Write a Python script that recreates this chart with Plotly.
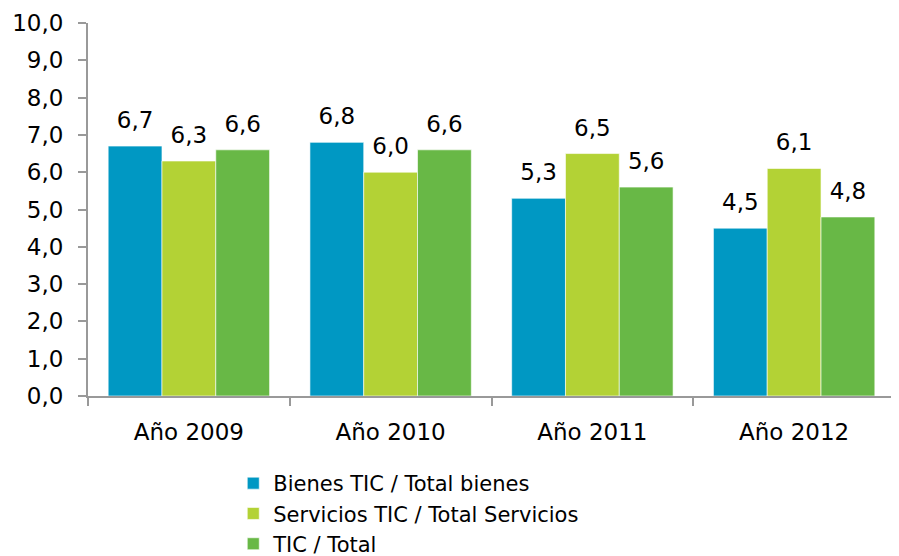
import plotly.graph_objects as go

# Data
years = ["Año 2009", "Año 2010", "Año 2011", "Año 2012"]
bienes = [6.7, 6.8, 5.3, 4.5]
servicios = [6.3, 6.0, 6.5, 6.1]
total = [6.6, 6.6, 5.6, 4.8]

series = [
    ("Bienes TIC / Total bienes", bienes, "#0098C3"),
    ("Servicios TIC / Total Servicios", servicios, "#B3D235"),
    ("TIC / Total", total, "#68B846"),
]

font = "DejaVu Sans, Verdana, sans-serif"

fig = go.Figure()
for name, vals, color in series:
    fig.add_trace(
        go.Bar(
            x=years,
            y=vals,
            name=name,
            marker=dict(color=color, line=dict(color="rgba(255,255,255,0.6)", width=1)),
            hoverinfo="x+y+name",
        )
    )

# value labels: grouped text-only scatter so they sit a bit higher above the bars
for name, vals, color in series:
    fig.add_trace(
        go.Scatter(
            x=years,
            y=vals,
            mode="markers+text",
            marker=dict(size=18, opacity=0),
            text=[f"{v:.1f}".replace(".", ",") for v in vals],
            textposition="top center",
            textfont=dict(size=23, color="#000000", family=font),
            cliponaxis=False,
            showlegend=False,
            hoverinfo="skip",
        )
    )

# the page body adds an 8px offset, margins compensate for it
fig.update_layout(
    width=899,
    height=556,
    margin=dict(l=80, r=12, t=15, b=168),
    barmode="group",
    bargap=0.2,
    bargroupgap=0,
    scattermode="group",
    scattergap=0.2,
    separators=",.",
    plot_bgcolor="white",
    paper_bgcolor="white",
    font=dict(family=font, size=23, color="#000000"),
    legend=dict(
        x=0.18,
        y=0,
        yref="container",
        xanchor="left",
        yanchor="bottom",
        orientation="v",
        font=dict(size=21),
        itemwidth=30,
        tracegroupgap=0,
        traceorder="normal",
    ),
    showlegend=True,
)

fig.update_yaxes(
    range=[0, 10],
    dtick=1,
    tickformat=".1f",
    showgrid=False,
    showline=True,
    linecolor="#999999",
    linewidth=2,
    ticks="outside",
    ticklen=8,
    tickcolor="#999999",
    tickwidth=2,
    ticklabelstandoff=10,
    zeroline=False,
    automargin=False,
)
fig.update_xaxes(
    showgrid=False,
    showline=True,
    linecolor="#999999",
    linewidth=2,
    ticks="outside",
    tickson="boundaries",
    ticklen=8,
    tickcolor="#999999",
    tickwidth=2,
    ticklabelstandoff=14,
    automargin=False,
)

fig.write_html("out.html")
